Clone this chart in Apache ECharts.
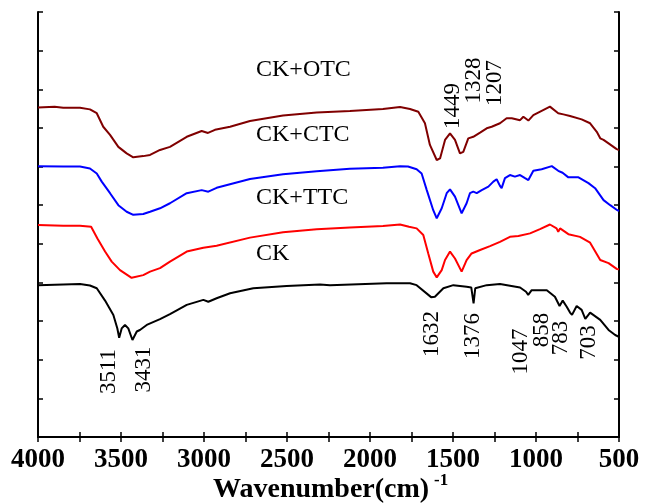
<!DOCTYPE html>
<html>
<head>
<meta charset="utf-8">
<title>FTIR spectra</title>
<script src="https://cdn.jsdelivr.net/npm/echarts@6/dist/echarts.min.js"></script>
<style>
  html, body { margin: 0; padding: 0; background: #fff; }
  #chart { width: 646px; height: 503px; }
</style>
</head>
<body>
<div id="chart"></div>
<script>
// Wavenumber axis (cm^-1), drawn high to low
const xTicks = [4000, 3500, 3000, 2500, 2000, 1500, 1000, 500];

// Spectra: [wavenumber, transmittance (a.u., offset per sample)]
const ckOTC = [
  [4000,85.3],[3900,85.5],[3848,85.2],[3747,85.2],[3687,84.8],[3646,83.8],[3607,80.3],[3566,78.2],
  [3516,75.1],[3466,73.4],[3426,72.4],[3366,72.7],[3325,73.0],[3265,74.3],[3205,75.1],[3104,77.7],
  [3014,79.2],[2976,78.7],[2934,79.5],[2843,80.3],[2723,81.8],[2524,83.2],[2321,84.0],[2121,84.4],
  [1922,84.9],[1819,85.4],[1759,84.9],[1709,84.2],[1669,81.2],[1639,75.6],[1598,71.7],[1578,72.1],
  [1548,76.9],[1518,78.6],[1488,76.9],[1458,73.4],[1438,73.8],[1408,77.3],[1378,77.7],[1337,78.8],
  [1297,79.9],[1267,80.3],[1257,79.9],[1217,81.2],[1177,82.5],[1146,82.5],[1096,82.0],[1076,82.9],
  [1046,81.9],[1016,83.3],[966,84.4],[916,85.5],[866,83.8],[835,83.5],[795,83.1],[725,82.2],
  [674,81.2],[634,79.0],[613,77.3],[593,76.9],[563,76.0],[514,74.5],[500,74.3]
];
const ckCTC = [
  [4000,70.1],[3848,70.0],[3747,70.0],[3687,69.5],[3646,68.2],[3616,66.1],[3566,63.1],[3516,60.0],
  [3466,58.3],[3426,57.5],[3366,57.7],[3325,58.3],[3265,59.2],[3205,60.5],[3104,63.1],[3014,63.9],
  [2974,63.5],[2924,64.5],[2723,66.8],[2524,68.0],[2321,68.8],[2121,69.4],[1922,69.7],[1819,70.1],
  [1771,70.0],[1719,69.3],[1689,68.2],[1658,63.9],[1619,58.7],[1598,56.6],[1568,59.2],[1538,63.1],
  [1518,64.1],[1488,62.2],[1448,57.9],[1418,60.5],[1398,63.1],[1378,63.5],[1357,63.1],[1327,63.9],
  [1287,64.8],[1257,66.1],[1237,66.7],[1217,65.0],[1207,64.4],[1187,67.0],[1157,67.8],[1127,67.4],
  [1096,67.8],[1066,67.0],[1046,66.5],[1016,68.9],[966,69.3],[905,70.1],[866,68.9],[840,68.4],
  [805,67.2],[744,67.2],[684,65.7],[644,64.4],[593,61.3],[553,60.0],[510,58.7],[500,58.5]
];
const ckTTC = [
  [4000,54.9],[3848,54.7],[3747,54.7],[3680,54.4],[3642,51.4],[3596,48.0],[3556,45.4],[3506,43.2],
  [3436,41.2],[3366,41.9],[3325,42.8],[3265,43.7],[3205,45.4],[3104,48.0],[3004,49.0],[2924,49.5],
  [2723,51.6],[2524,53.0],[2321,53.8],[2121,54.2],[1922,54.6],[1819,55.0],[1765,54.4],[1719,54.0],
  [1679,52.3],[1649,47.5],[1619,42.8],[1598,41.3],[1568,43.2],[1548,45.8],[1518,48.0],[1488,46.2],
  [1448,42.8],[1418,45.8],[1388,47.5],[1337,48.4],[1277,49.4],[1217,50.5],[1157,51.8],[1106,52.0],
  [1096,51.8],[1036,52.7],[976,53.8],[916,55.0],[876,54.0],[866,53.1],[855,54.0],[805,52.5],
  [735,51.8],[674,50.3],[613,45.8],[563,45.0],[514,43.5],[500,43.4]
];
const ck = [
  [4000,39.3],[3848,39.5],[3747,39.6],[3687,39.2],[3646,38.5],[3596,35.3],[3546,31.6],[3522,28.1],
  [3511,25.7],[3496,28.1],[3476,29.0],[3456,28.1],[3431,25.1],[3405,27.3],[3386,27.7],[3345,29.0],
  [3265,30.5],[3205,31.8],[3104,34.2],[3004,35.5],[2974,35.0],[2924,35.9],[2843,37.2],[2703,38.5],
  [2502,39.1],[2301,39.5],[2241,39.3],[1900,39.8],[1759,39.8],[1719,39.3],[1632,36.2],[1609,36.3],
  [1558,38.5],[1498,39.3],[1418,38.9],[1390,38.7],[1376,34.6],[1366,38.5],[1297,39.3],[1217,39.6],
  [1096,38.7],[1060,37.6],[1047,36.8],[1026,38.0],[935,38.0],[886,36.3],[858,33.9],[839,35.3],
  [815,33.7],[795,32.2],[783,31.6],[755,33.9],[725,32.9],[703,30.6],[674,32.2],[613,30.3],
  [563,27.7],[523,26.4],[504,26.0],[500,26.5]
];

const seriesNames = ['CK+OTC', 'CK+CTC', 'CK+TTC', 'CK'];
const peakLabels = ['3511', '3431', '1632', '1376', '1047', '858', '783', '703', '1449', '1328', '1207'];

const FONT = '"Liberation Serif", "Times New Roman", serif';
const colors = ['#800000', '#0000ff', '#ff0000', '#000000'];
const spectra = [ckOTC, ckCTC, ckTTC, ck];

const chart = echarts.init(document.getElementById('chart'), null, { renderer: 'canvas' });

const axisLine = { show: true, lineStyle: { color: '#000', width: 2 } };
const tickStyle = { show: true, inside: true, length: 5, lineStyle: { color: '#000', width: 1.5 } };
const minorTickStyle = { show: true, splitNumber: 2, length: 5, lineStyle: { color: '#000', width: 1.5 } };

const option = {
  animation: false,
  backgroundColor: '#fff',
  grid: { left: 38, right: 27, top: 12, bottom: 66, containLabel: false },
  xAxis: [
    {
      type: 'value', inverse: true, min: 500, max: 4000, interval: 500,
      position: 'bottom',
      axisLine: axisLine, axisTick: tickStyle, minorTick: minorTickStyle,
      axisLabel: { fontFamily: FONT, fontWeight: 'bold', fontSize: 27, color: '#000', margin: 10,
        formatter: v => xTicks.indexOf(v) >= 0 ? String(v) : '' },
      splitLine: { show: false }
    },
    {
      type: 'value', inverse: true, min: 500, max: 4000, interval: 500,
      position: 'top',
      axisLine: axisLine, axisTick: tickStyle, minorTick: minorTickStyle,
      axisLabel: { show: false }, splitLine: { show: false }
    }
  ],
  yAxis: [
    {
      type: 'value', min: 0, max: 110, interval: 10, position: 'left',
      axisLine: axisLine, axisTick: tickStyle, axisLabel: { show: false }, splitLine: { show: false }
    },
    {
      type: 'value', min: 0, max: 110, interval: 10, position: 'right',
      axisLine: axisLine, axisTick: tickStyle, axisLabel: { show: false }, splitLine: { show: false }
    }
  ],
  series: spectra.map((d, i) => ({
    name: seriesNames[i], type: 'line', data: d, xAxisIndex: 0, yAxisIndex: 0,
    showSymbol: false, symbol: 'none', smooth: false,
    lineStyle: { color: colors[i], width: 2 }, z: 3
  }))
};
chart.setOption(option);

// Text annotations: sample names, band assignments and the axis title
const namePos = [[256, 70], [256, 135], [256, 197.5], [256, 254]];
const peakPos = [
  [109, 371.5], [144, 369.5], [432, 334], [473, 336], [521, 351.5],
  [541.5, 330], [561, 338], [588.5, 342.5], [453, 106], [473.5, 80.5], [495, 83]
];
const graphics = [];
seriesNames.forEach((n, i) => {
  graphics.push({
    type: 'text', x: namePos[i][0], y: namePos[i][1], z: 10,
    style: { text: n, fontFamily: FONT, fontSize: 24, fill: '#000', align: 'left', verticalAlign: 'middle' }
  });
});
peakLabels.forEach((t, i) => {
  graphics.push({
    type: 'text', x: peakPos[i][0], y: peakPos[i][1], rotation: Math.PI / 2, z: 10,
    style: { text: t, fontFamily: FONT, fontSize: 23, fill: '#000', align: 'center', verticalAlign: 'middle' }
  });
});
graphics.push({
  type: 'text', x: 213, y: 490, z: 10,
  style: { text: 'Wavenumber(cm)', fontFamily: FONT, fontWeight: 'bold', fontSize: 28, fill: '#000', align: 'left', verticalAlign: 'middle' }
});
graphics.push({
  type: 'text', x: 434, y: 481, z: 10,
  style: { text: '-1', fontFamily: FONT, fontWeight: 'bold', fontSize: 17, fill: '#000', align: 'left', verticalAlign: 'middle' }
});
chart.setOption({ graphic: graphics });
</script>
</body>
</html>
